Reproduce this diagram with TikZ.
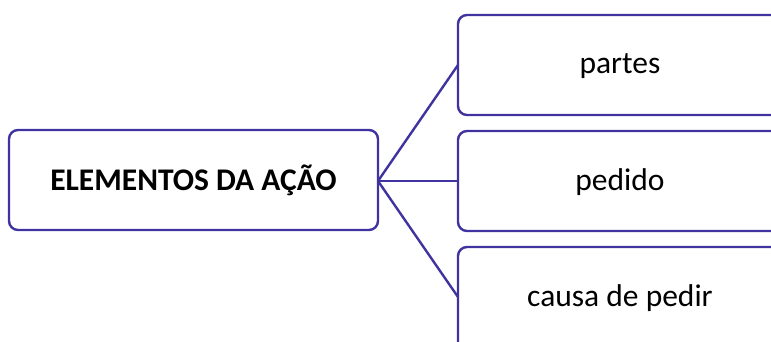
\documentclass[tikz,border=0pt]{standalone}
\usepackage{fontspec}
\setmainfont{Carlito}
\definecolor{edge}{HTML}{4033A0}
\begin{document}
\begin{tikzpicture}[x=1pt,y=-1pt,
  box/.style={draw=edge,line width=2.4pt,rounded corners=9pt,fill=white},
  conn/.style={draw=edge,line width=2.4pt},
  lbl/.style={font=\fontsize{31.5}{36}\selectfont,text=black,anchor=base,inner sep=0pt}]
\useasboundingbox (0,0) rectangle (771,342);
\begin{scope}
\clip (0,0) rectangle (771,342);
\draw[box] (9,130) rectangle (378,230);
\draw[box] (458,15) rectangle (800,115);
\draw[box] (458,131) rectangle (800,231);
\draw[box] (458,247) rectangle (800,360);
\end{scope}
\coordinate (hub) at (378,181);
\coordinate (t1) at (458,65);
\coordinate (t2) at (458,181);
\coordinate (t3) at (458,297);
\node[lbl,font=\fontsize{31.5}{36}\selectfont\bfseries] (main) at (193.5,190) {ELEMENTOS DA AÇÃO};
\node[lbl] (a) at (620,74) {partes};
\node[lbl] (b) at (620,190.5) {pedido};
\node[lbl] (c) at (620,306.5) {causa de pedir};
\draw[conn] (hub) -- (t1);
\draw[conn] (hub) -- (t2);
\draw[conn] (hub) -- (t3);
\end{tikzpicture}
\end{document}
